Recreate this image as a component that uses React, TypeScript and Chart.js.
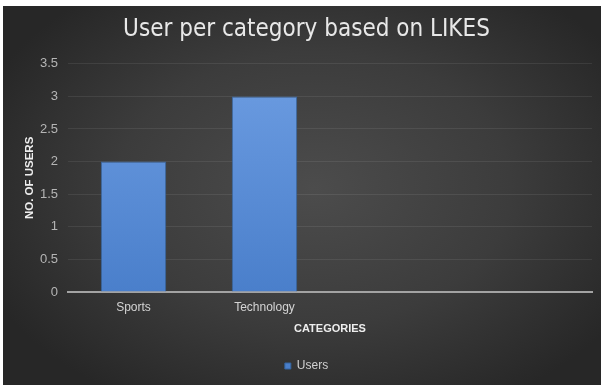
import React, { useEffect, useRef } from "react";
import { Chart, registerables } from "chart.js";

Chart.register(...registerables);

const categories: string[] = ["Sports", "Technology", "", ""];
const users: (number | null)[] = [2, 3, null, null];
const seriesName = "Users";
const chartTitle = "User per category based on LIKES";
const xTitle = "CATEGORIES";
const yTitle = "NO. OF USERS";
const yMin = 0;
const yMax = 3.5;
const yStep = 0.5;

const SANS = "'Liberation Sans', Arial, sans-serif";
const TITLE_FONT = "'DejaVu Sans Condensed', 'DejaVu Sans', sans-serif";

export default function App() {
  const ref = useRef<HTMLCanvasElement | null>(null);

  useEffect(() => {
    if (!ref.current) return;
    const chart = new Chart(ref.current, {
      type: "bar",
      data: {
        labels: categories,
        datasets: [
          {
            label: seriesName,
            data: users,
            backgroundColor: (ctx: any) => {
              const area = ctx.chart.chartArea;
              if (!area) return "#5b8ed8";
              const g = ctx.chart.ctx.createLinearGradient(0, area.top, 0, area.bottom);
              g.addColorStop(0, "#6d9de2");
              g.addColorStop(1, "#4a7fcb");
              return g;
            },
            borderColor: "#35649f",
            borderWidth: 1,
            categoryPercentage: 1,
            barPercentage: 0.5,
          },
        ],
      },
      options: {
        animation: false,
        responsive: false,
        maintainAspectRatio: false,
        layout: { padding: { left: 18, right: 9, top: 0, bottom: 3 } },
        plugins: {
          title: {
            display: true,
            text: chartTitle,
            color: "#e8e8e8",
            font: { family: TITLE_FONT, size: 24, weight: "normal" },
            padding: { top: 9, bottom: 20 },
          },
          legend: {
            display: true,
            position: "bottom",
            labels: {
              color: "#d0d0d0",
              font: { family: SANS, size: 12 },
              boxWidth: 6,
              boxHeight: 6,
              padding: 10,
            },
          },
          tooltip: { enabled: false },
        },
        scales: {
          x: {
            afterFit: (scale: any) => {
              scale.height = 58;
            },
            grid: { display: false, drawTicks: false },
            border: { display: true, color: "#a3a3a3", width: 2 },
            ticks: {
              color: "#d4d4d4",
              font: { family: SANS, size: 12 },
              padding: 8,
              maxRotation: 0,
              autoSkip: false,
            },
            title: {
              display: true,
              text: xTitle,
              color: "#eeeeee",
              font: { family: SANS, size: 11, weight: "bold" },
              padding: { top: 0, bottom: 14 },
            },
          },
          y: {
            min: yMin,
            max: yMax,
            afterFit: (scale: any) => {
              scale.width = 47;
            },
            grid: { color: "rgba(255,255,255,0.08)", drawTicks: false },
            border: { display: false },
            ticks: {
              stepSize: yStep,
              color: "#b5b5b5",
              font: { family: SANS, size: 13 },
              padding: 10,
              callback: (v: any) => String(Number(v)),
            },
            title: {
              display: true,
              text: yTitle,
              color: "#eeeeee",
              font: { family: SANS, size: 11.5, weight: "bold" },
              padding: { top: 2, bottom: 0 },
            },
          },
        },
      },
    });
    return () => chart.destroy();
  }, []);

  return (
    <div style={{ position: "fixed", left: 0, top: 0, width: 601, height: 385, background: "#ffffff" }}>
      <div
        style={{
          position: "absolute",
          left: 3,
          top: 6,
          width: 598,
          height: 379,
          background: "radial-gradient(ellipse 60% 65% at 52% 48%, #4c4c4c 0%, #3c3c3c 55%, #272727 100%)",
        }}
      >
        <canvas ref={ref} width={598} height={379} style={{ display: "block", width: 598, height: 379 }} />
      </div>
    </div>
  );
}
